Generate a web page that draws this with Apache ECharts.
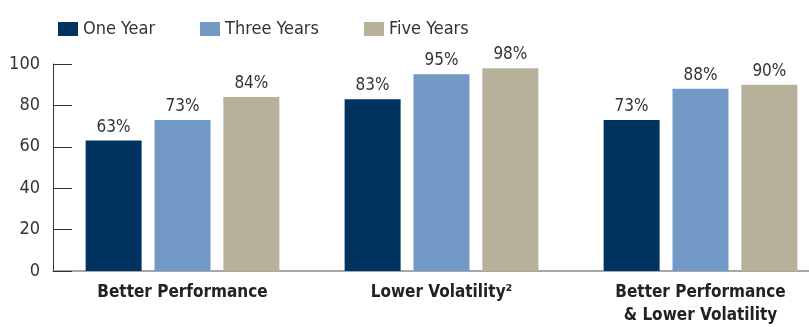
<!DOCTYPE html>
<html><head><meta charset="utf-8">
<script src="https://cdn.jsdelivr.net/npm/echarts@6/dist/echarts.min.js"></script>
<style>html,body{margin:0;padding:0;background:#fff;overflow:hidden}#c{width:840px;height:327px}</style>
</head><body><div id="c"></div>
<script>
var categories = ["Better Performance", "Lower Volatility\u00B2", "Better Performance\n& Lower Volatility"];
var seriesNames = ["One Year", "Three Years", "Five Years"];
var oneYear = [63, 83, 73];
var threeYears = [73, 95, 88];
var fiveYears = [84, 98, 90];
var yTicks = [0, 20, 40, 60, 80, 100];

var colors = ["#00335f", "#7399c6", "#b8b199"];
var FONT = "'DejaVu Sans Condensed', 'Roboto', sans-serif";
var chart = echarts.init(document.getElementById('c'));
function legend(i, left) {
  return {data: [seriesNames[i]], left: left, top: 15, itemWidth: 20, itemHeight: 14, itemGap: 0,
    icon: 'rect', textStyle: {fontFamily: FONT, fontSize: 18, color: '#333', padding: [1,0,0,0]}};
}
function bar(i, vals) {
  return {name: seriesNames[i], type: 'bar', data: vals, barWidth: 56, barGap: '23%',
    itemStyle: {color: colors[i]},
    label: {show: true, position: 'top', distance: 5, formatter: '{c}%',
      fontFamily: FONT, fontSize: 17, color: '#333'}};
}
chart.setOption({
  animation: false,
  legend: [legend(0, 53), legend(1, 195), legend(2, 359)],
  grid: {left: 53, top: 64, width: 777, height: 214, containLabel: false},
  xAxis: {type: 'category', data: categories,
    axisLine: {lineStyle: {color: '#8a8a8a', width: 1.5}},
    axisTick: {show: false},
    axisLabel: {fontFamily: FONT, fontSize: 17, fontWeight: 'bold', color: '#222', margin: 10, lineHeight: 23, interval: 0}},
  yAxis: {type: 'value', min: 0, max: 100, interval: 20,
    splitLine: {show: false},
    axisLine: {show: true, lineStyle: {color: '#333', width: 1}},
    axisTick: {show: true, inside: true, length: 19, lineStyle: {color: '#333'}},
    axisLabel: {fontFamily: FONT, fontSize: 18, color: '#333', margin: 13,
      formatter: function(v){ return yTicks.indexOf(v) >= 0 ? String(v) : ''; }}},
  series: [bar(0, oneYear), bar(1, threeYears), bar(2, fiveYears)]
});
</script></body></html>
